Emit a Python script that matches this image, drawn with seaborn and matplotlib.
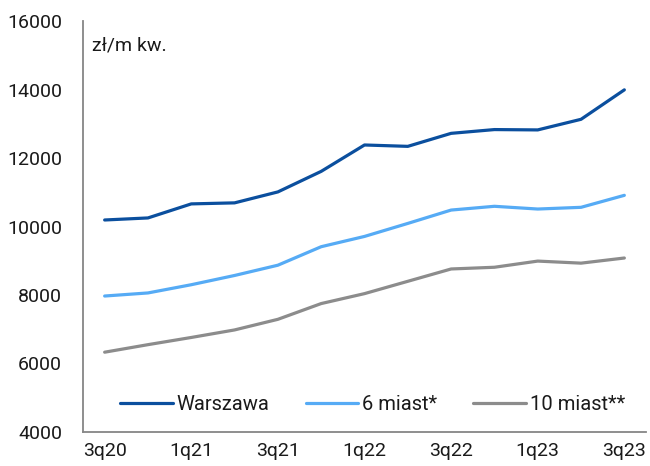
import matplotlib
matplotlib.use("Agg")
import matplotlib.pyplot as plt
import seaborn as sns
import pandas as pd

quarters = ["3q20", "4q20", "1q21", "2q21", "3q21", "4q21", "1q22", "2q22",
            "3q22", "4q22", "1q23", "2q23", "3q23"]
warszawa = [10190, 10250, 10660, 10690, 11010, 11610, 12380, 12340,
            12720, 12830, 12820, 13130, 13990]
miast6 = [7970, 8060, 8300, 8570, 8870, 9410, 9710, 10090,
          10480, 10590, 10510, 10560, 10910]
miast10 = [6330, 6550, 6760, 6980, 7290, 7750, 8040, 8400,
           8760, 8810, 8990, 8930, 9080]
series_names = ["Warszawa", "6 miast*", "10 miast**"]
tick_labels = ["3q20", "1q21", "3q21", "1q22", "3q22", "1q23", "3q23"]

colors = {"Warszawa": "#0b4f9e", "6 miast*": "#56abf5", "10 miast**": "#8c8c8c"}

df = pd.DataFrame({"x": list(range(len(quarters))) * 3,
                   "value": warszawa + miast6 + miast10,
                   "series": sum([[n] * len(quarters) for n in series_names], [])})

sns.set_style("white")
plt.rcParams["font.family"] = ["Roboto", "DejaVu Sans"]
FS = 14

fig = plt.figure(figsize=(6.5, 4.66), dpi=100)
ax = fig.add_axes([83 / 650, 34 / 466, 563 / 650, 411 / 466])

sns.lineplot(data=df, x="x", y="value", hue="series", palette=colors,
             hue_order=series_names, linewidth=2.3, ax=ax, legend=True)

ax.set_xlim(-0.5, len(quarters) - 0.5)
ax.set_ylim(4000, 16000)
ax.set_yticks(range(4000, 16001, 2000))
ax.set_yticklabels([str(v) for v in range(4000, 16001, 2000)], fontsize=FS,
                   color="#1a1a1a")
ax.set_xticks([i for i, q in enumerate(quarters) if q in tick_labels])
ax.set_xticklabels(tick_labels, fontsize=FS, color="#1a1a1a")
ax.set_xticks([i - 0.5 for i in range(len(quarters) + 1)], minor=True)
ax.tick_params(axis="x", which="major", length=0, pad=7)
ax.tick_params(axis="x", which="minor", length=5, width=1, color="#868686")
ax.tick_params(axis="y", length=5, width=1, color="#868686", pad=10)
ax.set_xlabel("")
ax.set_ylabel("")

for s in ["top", "right"]:
    ax.spines[s].set_visible(False)
for s in ["left", "bottom"]:
    ax.spines[s].set_color("#868686")
    ax.spines[s].set_linewidth(1.3)

ax.text(0.016, 0.962, "zł/m kw.", transform=ax.transAxes, fontsize=FS,
        va="top", ha="left", color="#1a1a1a")

leg = ax.legend(loc="center left", bbox_to_anchor=(0.066, 0.066), ncol=3,
                frameon=False, fontsize=14.5, handlelength=2.6,
                handletextpad=0.2, columnspacing=1.8, borderpad=0,
                borderaxespad=0)
for line in leg.get_lines():
    line.set_linewidth(2.3)
for t in leg.get_texts():
    t.set_color("#1a1a1a")

fig.savefig("out.png", dpi=100)
